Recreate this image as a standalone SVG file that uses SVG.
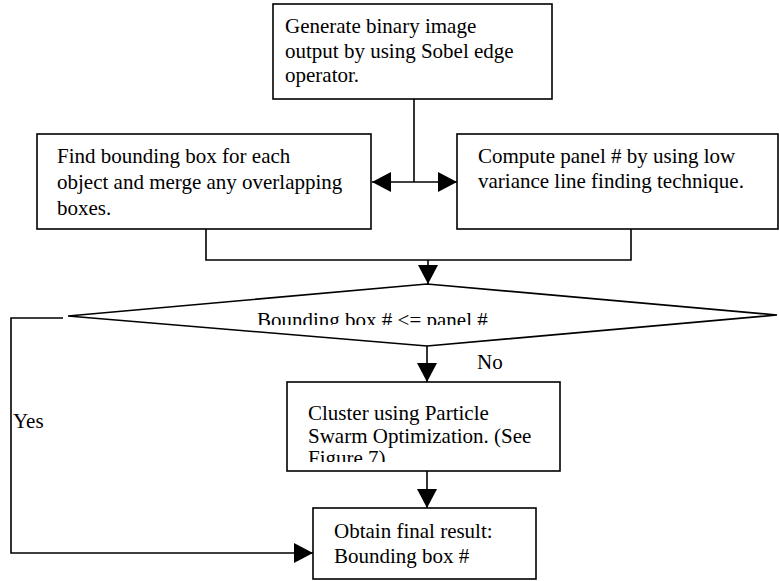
<svg xmlns="http://www.w3.org/2000/svg" width="779" height="581" viewBox="0 0 779 581">
<style>
.box{fill:#fff;stroke:#000;stroke-width:1.6}
.ln{fill:none;stroke:#000;stroke-width:1.6}
.t{font-family:'Liberation Serif','DejaVu Serif','Times New Roman',serif;font-size:21px;fill:#000}
</style>
<defs>
<marker id="ah" markerUnits="userSpaceOnUse" markerWidth="20" markerHeight="20" viewBox="0 0 20 20" refX="19" refY="10" orient="auto">
<polygon points="0,0 19,10 0,20" fill="#000"/>
</marker>
<clipPath id="cd"><rect x="0" y="0" width="779" height="325"/></clipPath>
<clipPath id="cc"><rect x="0" y="0" width="779" height="462"/></clipPath>
</defs>
<rect width="779" height="581" fill="#fff"/>
<g id="connectors">
<path class="ln" d="M414,99 V182"/>
<path class="ln" d="M414,182 H372" marker-end="url(#ah)"/>
<path class="ln" d="M414,182 H457" marker-end="url(#ah)"/>
<path class="ln" d="M206,229 V260 H631 V229"/>
<path class="ln" d="M428,260 V284" marker-end="url(#ah)"/>
<path class="ln" d="M427,346 V382" marker-end="url(#ah)"/>
<path class="ln" d="M427,471 V508" marker-end="url(#ah)"/>
<path class="ln" d="M63,318 H11 V553 H313" marker-end="url(#ah)"/>
</g>
<g class="t" font-family="Liberation Serif, serif">
<g id="n1">
<rect class="box" x="273" y="4" width="279" height="95"/>
<text x="285" y="33">Generate binary image</text>
<text x="285" y="57.5">output by using Sobel edge</text>
<text x="285" y="82">operator.</text>
</g>
<g id="n2">
<rect class="box" x="37" y="134" width="334" height="95"/>
<text x="57" y="163">Find bounding box for each</text>
<text x="57" y="189">object and merge any overlapping</text>
<text x="57" y="215">boxes.</text>
</g>
<g id="n3">
<rect class="box" x="457" y="134" width="321" height="95"/>
<text x="478" y="163">Compute panel # by using low</text>
<text x="478" y="188">variance line finding technique.</text>
</g>
<g id="n4">
<polygon class="box" points="427,284 777,315 427,346 68,316"/>
<text x="257" y="326.5" clip-path="url(#cd)">Bounding box # &lt;= panel #</text>
</g>
<g id="n5">
<rect class="box" x="287" y="382" width="273" height="89"/>
<g clip-path="url(#cc)">
<text x="308" y="420">Cluster using Particle</text>
<text x="308" y="443">Swarm Optimization. (See</text>
<text x="308" y="464.5">Figure 7)</text>
</g>
</g>
<g id="n6">
<rect class="box" x="313" y="508" width="223" height="71"/>
<text x="334" y="538">Obtain final result:</text>
<text x="334" y="563">Bounding box #</text>
</g>
<g id="labels">
<text x="477" y="369">No</text>
<text x="13" y="428">Yes</text>
</g>
</g>
</svg>
